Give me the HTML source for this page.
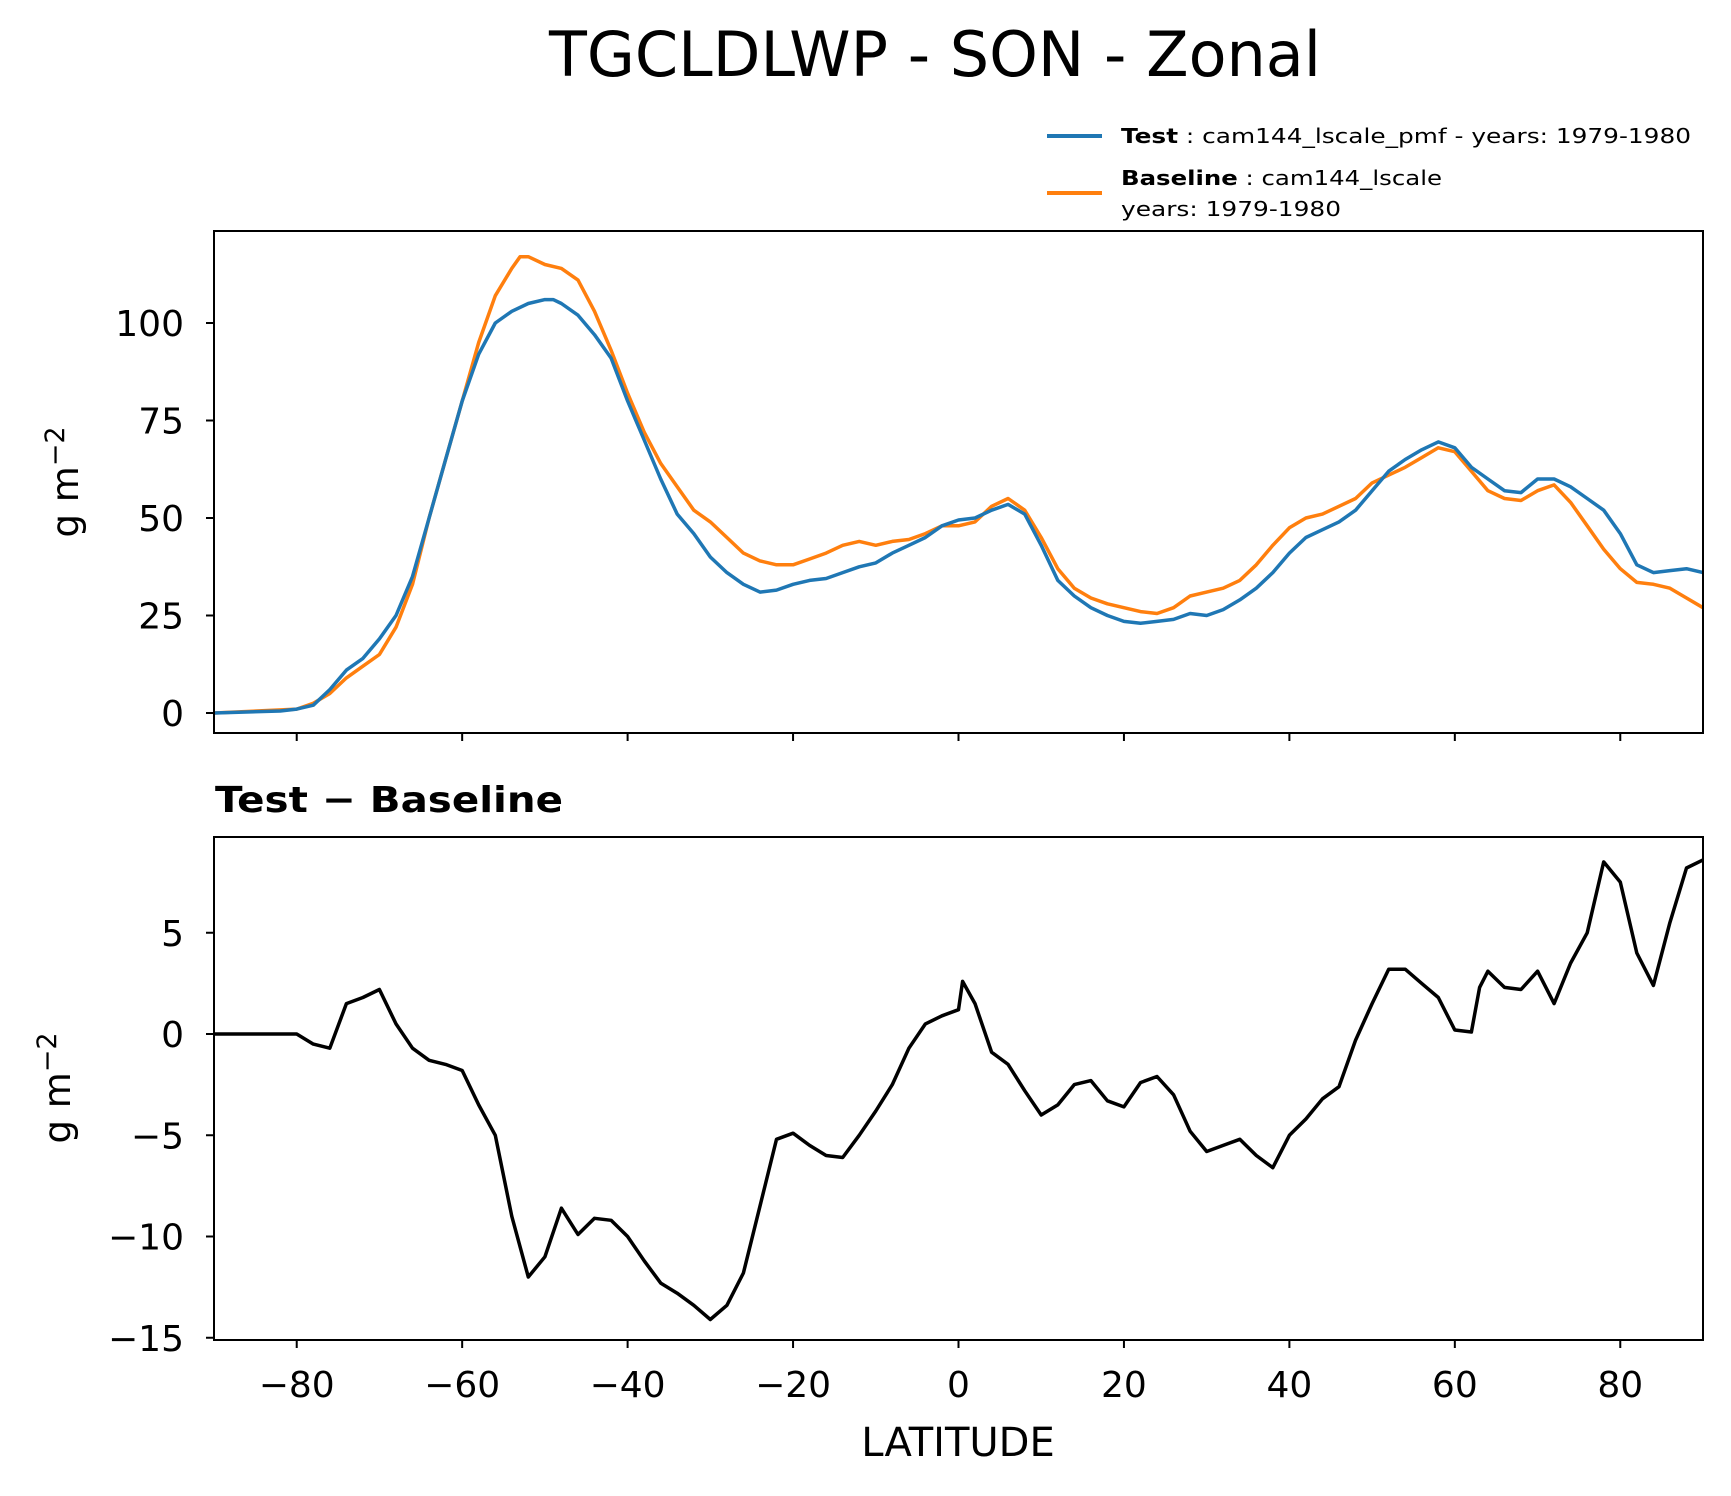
<!DOCTYPE html>
<html><head><meta charset="utf-8"><style>
html,body{margin:0;padding:0;background:#fff;}
svg{display:block;font-family:"DejaVu Sans","Liberation Sans",sans-serif;}
</style></head><body>
<svg id="chart" width="1731" height="1496" viewBox="0 0 1731 1496" xmlns="http://www.w3.org/2000/svg">
<rect width="1731" height="1496" fill="#fff"/>
<text x="935" y="76" font-size="62" text-anchor="middle">TGCLDLWP - SON - Zonal</text>
<g>
<line x1="1047" y1="136" x2="1102" y2="136" stroke="#1f77b4" stroke-width="4"/>
<text x="1121" y="143" font-size="20" textLength="570" lengthAdjust="spacingAndGlyphs"><tspan font-weight="bold">Test</tspan> : cam144_lscale_pmf - years: 1979-1980</text>
<line x1="1047" y1="193" x2="1102" y2="193" stroke="#ff7f0e" stroke-width="4"/>
<text x="1121" y="185" font-size="20" textLength="321" lengthAdjust="spacingAndGlyphs"><tspan font-weight="bold">Baseline</tspan> : cam144_lscale</text>
<text x="1121" y="216" font-size="20" textLength="220" lengthAdjust="spacingAndGlyphs">years: 1979-1980</text>
</g>
<text transform="translate(78,482) rotate(-90)" font-size="37" text-anchor="middle">g m<tspan dy="-14" font-size="27">−2</tspan></text>
<text transform="translate(70,1088) rotate(-90)" font-size="37" text-anchor="middle">g m<tspan dy="-14" font-size="27">−2</tspan></text>
<text x="215" y="812" font-size="36" font-weight="bold" textLength="348" lengthAdjust="spacingAndGlyphs">Test − Baseline</text>
<text x="958" y="1456" font-size="40" text-anchor="middle">LATITUDE</text>
<g id="topPanel"></g>
<g id="botPanel"></g>
</svg>
<script>
const testLat = [-90,-82,-80,-78,-76,-74,-72,-70,-68,-66,-64,-62,-60,-58,-56,-54,-52,-50,-49,-48,-46,-44,-42,-40,-38,-36,-34,-32,-30,-28,-26,-24,-22,-20,-18,-16,-14,-12,-10,-8,-6,-4,-2,0,2,4,6,8,10,12,14,16,18,20,22,24,26,28,30,32,34,36,38,40,42,44,46,48,50,52,54,56,58,60,62,64,66,68,70,72,74,76,78,80,82,84,86,88,90];
const testVals = [0,0.5,1,2,6,11,14,19,25,35,50,65,80,92,100,103,105,106,106,105,102,97,91,80,70,60,51,46,40,36,33,31,31.5,33,34,34.5,36,37.5,38.5,41,43,45,48,49.5,50,52,53.5,51,43,34,30,27,25,23.5,23,23.5,24,25.5,25,26.5,29,32,36,41,45,47,49,52,57,62,65,67.5,69.5,68,63,60,57,56.5,60,60,58,55,52,46,38,36,36.5,37,36];
const baseLat = [-90,-80,-78,-76,-74,-72,-70,-68,-66,-64,-62,-60,-58,-56,-54,-53,-52,-50,-48,-46,-44,-42,-40,-38,-36,-34,-32,-30,-28,-26,-24,-22,-20,-18,-16,-14,-12,-10,-8,-6,-4,-2,0,2,4,6,8,10,12,14,16,18,20,22,24,26,28,30,32,34,36,38,40,42,44,46,48,50,52,54,56,58,60,62,64,66,68,70,72,74,76,78,80,82,84,86,88,90];
const baseVals = [0,1,2.5,5,9,12,15,22,33,50,65,80,95,107,114,117,117,115,114,111,103,93,82,72,64,58,52,49,45,41,39,38,38,39.5,41,43,44,43,44,44.5,46,48,48,49,53,55,52,45,37,32,29.5,28,27,26,25.5,27,30,31,32,34,38,43,47.5,50,51,53,55,59,61,63,65.5,68,67,62,57,55,54.5,57,58.5,54,48,42,37,33.5,33,32,29.5,27];
const diffLat = [-90,-86,-80,-78,-76,-74,-72,-70,-68,-66,-64,-62,-60,-58,-56,-54,-52,-50,-48,-46,-44,-42,-40,-38,-36,-34,-32,-30,-28,-26,-24,-22,-20,-18,-16,-14,-12,-10,-8,-6,-4,-2,0,0.5,2,4,6,8,10,12,14,16,18,20,22,24,26,28,30,32,34,36,38,40,42,44,46,48,50,52,54,56,58,60,62,63,64,66,68,70,72,74,76,78,80,82,84,86,88,90];
const diffVals = [0,0,0,-0.5,-0.7,1.5,1.8,2.2,0.5,-0.7,-1.3,-1.5,-1.8,-3.5,-5,-9,-12,-11,-8.6,-9.9,-9.1,-9.2,-10,-11.2,-12.3,-12.8,-13.4,-14.1,-13.4,-11.8,-8.5,-5.2,-4.9,-5.5,-6,-6.1,-5,-3.8,-2.5,-0.7,0.5,0.9,1.2,2.6,1.5,-0.9,-1.5,-2.8,-4,-3.5,-2.5,-2.3,-3.3,-3.6,-2.4,-2.1,-3,-4.8,-5.8,-5.5,-5.2,-6,-6.6,-5,-4.2,-3.2,-2.6,-0.3,1.5,3.2,3.2,2.5,1.8,0.2,0.1,2.3,3.1,2.3,2.2,3.1,1.5,3.5,5,8.5,7.5,4,2.4,5.5,8.2,8.6];
const xTicks = [-80,-60,-40,-20,0,20,40,60,80];
const topTicks = [0,25,50,75,100];
const botTicks = [5,0,-5,-10,-15];

const NS="http://www.w3.org/2000/svg";
const X0=214,X1=1703;
const xs = v => X0+(v+90)/180*(X1-X0);
const topY = v => 713-v*3.9;
const botY = v => 1034-v*20.25;
function mk(parent,tag,attrs){const e=document.createElementNS(NS,tag);for(const k in attrs)e.setAttribute(k,attrs[k]);parent.appendChild(e);return e;}
function linePath(lat,vals,fy){return lat.map((l,i)=>(i?'L':'M')+xs(l).toFixed(1)+','+fy(vals[i]).toFixed(1)).join('');}

function axes(g,y0,y1,fy,ticks,labelX,name){
  const clipId=name+'-clip';
  const cp=mk(g,'clipPath',{id:clipId});
  mk(cp,'rect',{x:X0,y:y0,width:X1-X0,height:y1-y0});
  ticks.forEach(t=>{
    const y=fy(t);
    const tk=mk(g,'line',{x1:X0-8,x2:X0,y1:y,y2:y,stroke:'#000','stroke-width':2});
    
    
    const tl=mk(g,'text',{x:X0-30,y:y+13,'font-size':36,'text-anchor':'end'});
    tl.textContent=String(t).replace('-','−');
    
    
  });
  xTicks.forEach(t=>{
    const x=xs(t);
    const tk=mk(g,'line',{x1:x,x2:x,y1:y1,y2:y1+8,stroke:'#000','stroke-width':2});
    
    
    if(labelX){
      const tl=mk(g,'text',{x:x,y:y1+57,'font-size':36,'text-anchor':'middle'});
      tl.textContent=String(t).replace('-','−');
      
      
    }
  });
  return clipId;
}

const topG=document.getElementById('topPanel');


let cid=axes(topG,231,733,topY,topTicks,false,'top');
const pb=mk(topG,'path',{d:linePath(baseLat,baseVals,topY),fill:'none',stroke:'#ff7f0e','stroke-width':3.5,'stroke-linejoin':'round','clip-path':'url(#'+cid+')'});


const pt=mk(topG,'path',{d:linePath(testLat,testVals,topY),fill:'none',stroke:'#1f77b4','stroke-width':3.5,'stroke-linejoin':'round','clip-path':'url(#'+cid+')'});


const f1=mk(topG,'rect',{x:X0,y:231,width:X1-X0,height:502,fill:'none',stroke:'#000','stroke-width':2});



const botG=document.getElementById('botPanel');


cid=axes(botG,837,1340,botY,botTicks,true,'bottom');
const pd=mk(botG,'path',{d:linePath(diffLat,diffVals,botY),fill:'none',stroke:'#000','stroke-width':3.5,'stroke-linejoin':'round','clip-path':'url(#'+cid+')'});


const f2=mk(botG,'rect',{x:X0,y:837,width:X1-X0,height:503,fill:'none',stroke:'#000','stroke-width':2});


</script>
</body></html>
